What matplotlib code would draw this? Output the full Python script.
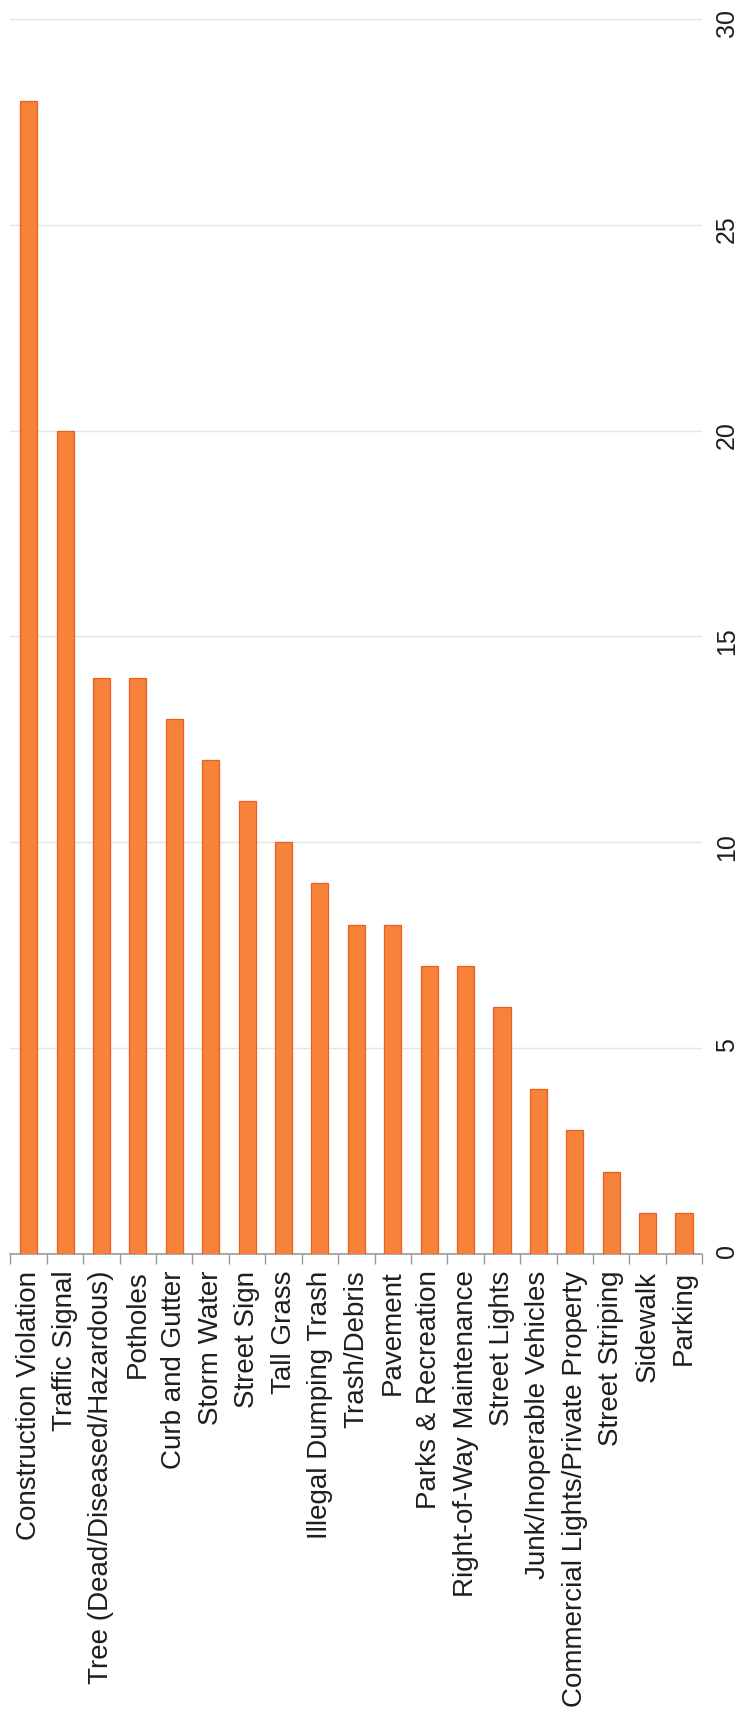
import matplotlib
matplotlib.use("Agg")
import matplotlib.pyplot as plt
import numpy as np

categories = ["Construction Violation", "Traffic Signal", "Tree (Dead/Diseased/Hazardous)",
              "Potholes", "Curb and Gutter", "Storm Water", "Street Sign", "Tall Grass",
              "Illegal Dumping Trash", "Trash/Debris", "Pavement", "Parks & Recreation",
              "Right-of-Way Maintenance", "Street Lights", "Junk/Inoperable Vehicles",
              "Commercial Lights/Private Property", "Street Striping", "Sidewalk", "Parking"]
values = [28, 20, 14, 14, 13, 12, 11, 10, 9, 8, 8, 7, 7, 6, 4, 3, 2, 1, 1]
value_ticks = [0, 5, 10, 15, 20, 25, 30]

plt.rcParams['font.family'] = ['Liberation Sans', 'DejaVu Sans']

fig = plt.figure(figsize=(7.47, 17.21), dpi=100)
ax = fig.add_axes([0.014, 0.2714, 0.926, 0.7176])

x = np.arange(len(categories))
ax.bar(x, values, width=0.47, color='#F7823A', edgecolor='#EA5F1E', linewidth=0.9, zorder=3)

ax.set_xlim(-0.5, len(categories) - 0.5)
ax.set_ylim(0, 30)

# value axis on the right, labels rotated
ax.yaxis.tick_right()
ax.set_yticks(value_ticks)
ax.set_yticklabels([str(v) for v in value_ticks], rotation=90, fontsize=18, color='#1e1e1e')
ax.tick_params(axis='y', length=0, pad=9)
ax.grid(axis='y', color='#e4e4e4', linewidth=1.0, zorder=0)

# category axis
ax.set_xticks(x)
ax.set_xticklabels(categories, rotation=90, fontsize=20, color='#1e1e1e')
ax.set_xticks(np.arange(len(categories) + 1) - 0.5, minor=True)
ax.tick_params(axis='x', which='major', length=0, pad=12)
ax.tick_params(axis='x', which='minor', length=7, width=1, color='#9a9a9a', direction='out')

for side in ['top', 'left', 'right']:
    ax.spines[side].set_visible(False)
ax.spines['bottom'].set_color('#9a9a9a')
ax.spines['bottom'].set_linewidth(1.2)

fig.savefig("out.png", dpi=100, facecolor='white')
